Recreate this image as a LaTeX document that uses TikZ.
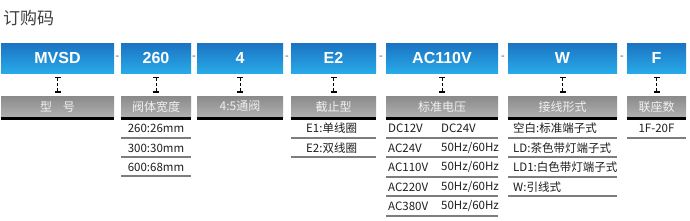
\documentclass[tikz,border=0pt]{standalone}
\usepackage{fontspec}
\setmainfont{Liberation Sans}
\newfontfamily\cjk{Noto Sans CJK SC}
\usetikzlibrary{arrows.meta,calc}
\definecolor{bluetop}{RGB}{27,115,194}
\definecolor{bluebot}{RGB}{40,170,232}
\definecolor{graytop}{RGB}{138,138,138}
\definecolor{graybot}{RGB}{176,176,176}
\definecolor{rowline}{RGB}{125,125,125}
\definecolor{txt}{RGB}{30,30,30}
\begin{document}
\begin{tikzpicture}[x=1pt,y=-1pt,
  codebox/.style={minimum height=30pt, inner sep=0pt, top color=bluetop, bottom color=bluebot,
    text=white, font=\fontsize{16}{17}\selectfont\bfseries},
  headbox/.style={minimum height=21pt, inner sep=0pt, top color=graytop, bottom color=graybot,
    text=white!94!black, font=\cjk\fontsize{12}{13}\selectfont},
  rowtext/.style={inner sep=0pt, text=txt, font=\cjk\fontsize{11.5}{12}\selectfont},
  sep/.style={inner sep=0pt, text=txt!70!white, font=\fontsize{11}{12}\selectfont},
  rowrule/.style={draw=rowline, line width=1.1pt},
  ibeam/.style={densely dashed, line width=0.8pt,
    {Bar[width=6pt,line width=1pt]}-{Bar[width=6pt,line width=1.8pt]},
    shorten <=4pt, shorten >=3pt}
]
\useasboundingbox[fill=white] (0,0) rectangle (690,220);

\node[anchor=west, inner sep=0pt, font=\cjk\fontsize{17}{18}\selectfont, text=txt!85!white] (title) at (3,18) {订购码};

\foreach \n/\l/\r/\c/\h in {
  1/1/114/MVSD/{型\hspace{0.9em}号},
  2/121/191/260/阀体宽度,
  3/197/283/4/4:5通阀,
  4/291/376/E2/截止型,
  5/386/498/AC110V/标准电压,
  6/508/617/W/接线形式,
  7/627/686/F/联座数}{
  \pgfmathsetmacro\w{\r-\l}
  \pgfmathsetmacro\m{(\r+\l)/2}
  \node[codebox, minimum width=\w pt] (c\n) at (\m,58) {\c};
  \node[headbox, minimum width=\w pt] (h\n) at (\m,106.5) {\h};
  \draw[line width=3pt] ($(h\n.south west)+(0,1.5)$) -- ($(h\n.south east)+(0,1.5)$);
  \draw[ibeam] (c\n.south) -- (h\n.north);
}

\foreach \a/\b in {1/2,2/3,3/4,4/5,5/6,6/7}{
  \node[sep] (d\a) at ($(c\a.east)!0.5!(c\b.west)$) {-};
}

% column 260
\foreach \y in {138,157,176}{\draw[rowrule] (121,\y) -- (191,\y);}
\node[rowtext] (r21) at (156,128) {260:26mm};
\node[rowtext] (r22) at (156,148) {300:30mm};
\node[rowtext] (r23) at (156,167) {600:68mm};

% column E2
\foreach \y in {138,157}{\draw[rowrule] (291,\y) -- (376,\y);}
\node[rowtext, anchor=west] (r41) at (306,128) {E1:单线圈};
\node[rowtext, anchor=west] (r42) at (306,148) {E2:双线圈};

% column voltage
\foreach \y in {138,157,177,196,216}{\draw[rowrule] (386,\y) -- (498,\y);}
\node[rowtext, anchor=west] (r51a) at (388,128) {DC12V};
\node[rowtext, anchor=west] (r51b) at (441,128) {DC24V};
\node[rowtext, anchor=west] (r52a) at (388,148) {AC24V};
\node[rowtext, anchor=west] (r52b) at (441,148) {50Hz/60Hz};
\node[rowtext, anchor=west] (r53a) at (388,167) {AC110V};
\node[rowtext, anchor=west] (r53b) at (441,167) {50Hz/60Hz};
\node[rowtext, anchor=west] (r54a) at (388,187) {AC220V};
\node[rowtext, anchor=west] (r54b) at (441,187) {50Hz/60Hz};
\node[rowtext, anchor=west] (r55a) at (388,206) {AC380V};
\node[rowtext, anchor=west] (r55b) at (441,206) {50Hz/60Hz};

% column wiring
\foreach \y in {138,157,177,196}{\draw[rowrule] (508,\y) -- (617,\y);}
\node[rowtext, anchor=west] (r61) at (513,128) {空白:标准端子式};
\node[rowtext, anchor=west] (r62) at (513,148) {LD:茶色带灯端子式};
\node[rowtext, anchor=west] (r63) at (513,167) {LD1:白色带灯端子式};
\node[rowtext, anchor=west] (r64) at (513,187) {W:引线式};

% column F
\draw[rowrule] (627,138) -- (686,138);
\node[rowtext] (r71) at (656.5,128) {1F-20F};
\end{tikzpicture}
\end{document}
